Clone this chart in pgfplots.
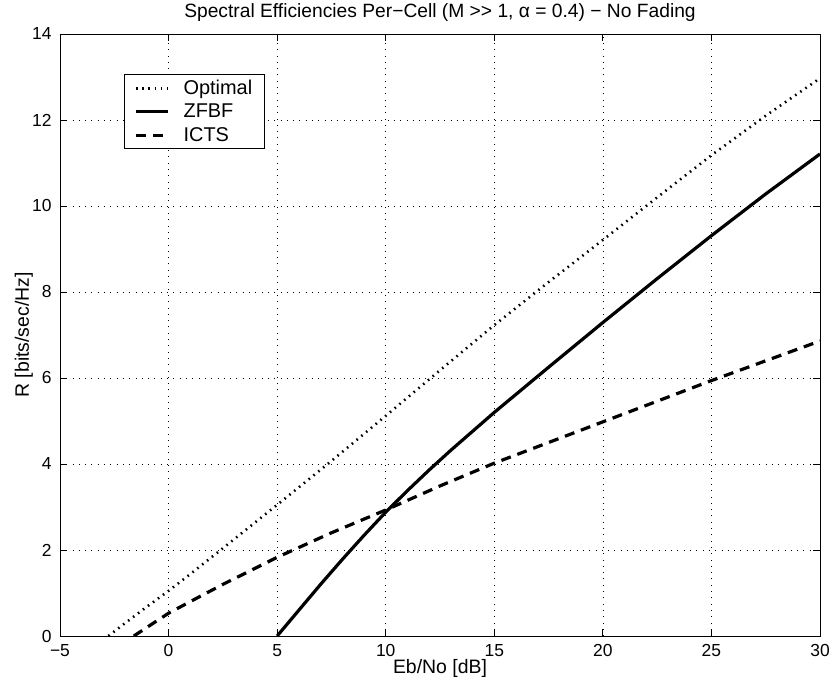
\documentclass[border=0pt]{standalone}
\usepackage{fontspec}
\setmainfont{Liberation Sans}
\usepackage{pgfplots}
\pgfplotsset{compat=1.18}
\begin{document}
\begin{tikzpicture}
\begin{axis}[
  name=ax,
  scale only axis,
  width=760bp, height=602bp,
  xmin=-5, xmax=30, ymin=0, ymax=14,
  xtick={-5,0,5,10,15,20,25,30},
  xticklabels={−5,0,5,10,15,20,25,30},
  ytick={0,2,4,6,8,10,12,14},
  /pgf/number format/assume math mode=true,
  tick label style={font=\fontsize{17.5}{20}\selectfont},
  xticklabel style={yshift=-5bp},
  yticklabel style={xshift=-5bp},
  grid=major,
  major grid style={black, line width=0.6bp, dash pattern=on 0.8bp off 5.5bp},
  axis line style={black, line width=0.9bp},
  tick style={black, line width=0.9bp},
  major tick length=7bp,
  tick align=inside,
  title={Spectral Efficiencies Per−Cell (M >{}> 1, α = 0.4) − No Fading},
  title style={font=\fontsize{19.3}{22}\selectfont, at={(axis description cs:0.5,1.018)}, anchor=base},
  xlabel={Eb/No [dB]},
  xlabel style={font=\fontsize{19.5}{22}\selectfont, at={(axis description cs:0.5,-0.062)}, anchor=base},
  ylabel={R [bits/sec/Hz]},
  ylabel style={font=\fontsize{19.5}{22}\selectfont, at={(axis description cs:-0.0408,0.5)}, anchor=base, rotate=0},
  legend style={at={(axis description cs:0.0842,0.9336)}, anchor=north west,
    draw=black, line width=0.8bp, fill=white,
    font=\fontsize{20}{23}\selectfont, row sep=4bp,
    inner xsep=10bp, inner ysep=4bp},
  legend cell align=left,
  legend image code/.code={\draw[#1] (0bp,0bp) -- (32bp,0bp);},
]
\addplot[black, line width=2.6bp, dash pattern=on 1.6bp off 4.6bp] coordinates {
(-2.77,0) (-2,0.3) (-1,0.68) (0,1.05) (1,1.44) (2.5,2.04) (5,3.05) (7.5,4.07)
(10,5.12) (12.5,6.18) (15,7.23) (17.5,8.23) (20,9.21) (22.5,10.2) (25,11.18)
(27.5,12.1) (30,12.97)};
\addlegendentry{\hspace{12bp}Optimal}
\addplot[black, line width=3.2bp] coordinates {
(5,0) (6,0.6) (7,1.2) (8,1.78) (9,2.34) (10,2.88) (11,3.38) (12,3.86)
(13,4.32) (15,5.2) (17.5,6.25) (20,7.29) (22.5,8.31) (25,9.31)
(27.5,10.28) (30,11.21)};
\addlegendentry{\hspace{12bp}ZFBF}
\addplot[black, line width=3.2bp, dash pattern=on 10bp off 7bp] coordinates {
(-1.6,0) (-1,0.2) (0,0.53) (1,0.8) (2.5,1.2) (5,1.83) (7.5,2.4) (10,2.93)
(12.5,3.49) (15,4.02) (17.5,4.5) (20,4.98) (22.5,5.46) (25,5.94) (27.5,6.4)
(30,6.86)};
\addlegendentry{\hspace{12bp}ICTS}
\end{axis}
\pgfresetboundingbox
\path ([shift={(-60bp,-51bp)}]ax.south west) rectangle ([shift={(12bp,34bp)}]ax.north east);
\end{tikzpicture}
\end{document}
